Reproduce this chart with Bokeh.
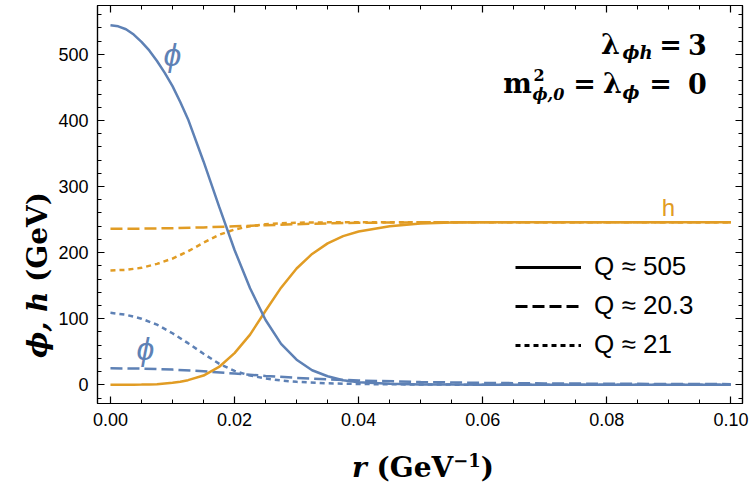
import math
from bokeh.plotting import figure
from bokeh.layouts import row, column
from bokeh.models import (Label, Legend, LegendItem, LinearAxis, Range1d, Div,
                          SingleIntervalTicker, CustomJSTickFormatter)
from bokeh.embed import file_html
from bokeh.resources import INLINE

# Field profiles phi(r), h(r) in GeV for three bounce solutions
r_solid = [0, 0.00125, 0.0025, 0.00375, 0.005, 0.00625, 0.0075, 0.00875, 0.01,
           0.01125, 0.0125, 0.015, 0.0175, 0.02, 0.0225, 0.025, 0.0275, 0.03,
           0.0325, 0.035, 0.0375, 0.04, 0.045, 0.05, 0.055, 0.06, 0.07, 0.08,
           0.09, 0.1]
phi_solid = [544, 542.5, 538, 530, 519, 506, 490, 472, 452, 428, 402, 338, 270,
             204, 146, 98, 62, 38, 22, 13, 7, 4, 1.5, 0.6, 0.3, 0.1, 0, 0, 0, 0]
h_solid = [0, 0, 0.1, 0.2, 0.3, 0.6, 1, 2, 3, 4.5, 7, 14, 27, 48, 76, 112, 147,
           176, 198, 214, 225, 232, 240, 244, 245.5, 246, 246, 246, 246, 246]

r_dash = [0, 0.005, 0.01, 0.015, 0.02, 0.025, 0.03, 0.035, 0.04, 0.05, 0.06,
          0.07, 0.08, 0.09, 0.1]
phi_dash = [25, 24.5, 23, 20.5, 17, 13.5, 10.5, 8.2, 6.5, 4.2, 2.9, 2.1, 1.6,
            1.2, 1.0]
h_dash = [236, 236.3, 237, 238.2, 239.8, 241.5, 243, 244.3, 245.2, 245.9, 246,
          246, 246, 246, 246]

r_dot = [0, 0.0025, 0.005, 0.0075, 0.01, 0.0125, 0.015, 0.0175, 0.02, 0.0225,
         0.025, 0.0275, 0.03, 0.035, 0.04, 0.05, 0.06, 0.08, 0.1]
phi_dot = [109, 106, 100, 91, 78, 63, 47, 32, 21, 14, 9.5, 6.5, 4.5, 2.3, 1.2,
           0.4, 0.15, 0, 0]
h_dot = [173, 174, 177, 183, 191, 202, 215, 227, 235, 240, 243, 244.5, 245.3,
         245.8, 246, 246, 246, 246, 246]

legend_labels = ["Q \u2248 505", "Q \u2248 20.3", "Q \u2248 21"]

BLUE = "#5E81B5"
ORANGE = "#E19C24"
DASH = "12 5"
DOT = "5 4"

W, H = 750, 498
YW, XH = 54, 58          # side strips holding the axis titles
FL, FB = 97, 403          # frame left / bottom in page pixels

p = figure(width=W - YW, height=H - XH, output_backend="svg",
           toolbar_location=None,
           x_range=Range1d(-0.00209, 0.10187), y_range=Range1d(-28.3, 574),
           min_border_left=FL - YW, min_border_right=8, min_border_top=5,
           min_border_bottom=H - XH - FB, background_fill_color="white",
           border_fill_color="white")
p.grid.visible = False
p.outline_line_color = "black"
p.outline_line_width = 1.2

xticker = SingleIntervalTicker(interval=0.02, num_minor_ticks=4)
yticker = SingleIntervalTicker(interval=100, num_minor_ticks=5)


def style_axis(ax, labels=True):
    ax.axis_line_color = "black"
    ax.axis_line_width = 1.2
    ax.major_tick_in = 7
    ax.major_tick_out = 0
    ax.minor_tick_in = 4
    ax.minor_tick_out = 0
    ax.major_tick_line_color = "black"
    ax.minor_tick_line_color = "black"
    ax.major_tick_line_width = 1.2
    ax.minor_tick_line_width = 1
    if labels:
        ax.major_label_text_font = "Liberation Sans"
        ax.major_label_text_font_size = "18px"
        ax.major_label_text_color = "black"
    else:
        ax.formatter = CustomJSTickFormatter(code="return '';")
        ax.major_label_text_font_size = "1px"
        ax.major_label_standoff = 0


p.xaxis.ticker = xticker
p.yaxis.ticker = yticker
style_axis(p.xaxis[0])
style_axis(p.yaxis[0])
p.xaxis[0].formatter = CustomJSTickFormatter(code="return tick.toFixed(2);")
p.xaxis[0].major_label_standoff = 9
p.yaxis[0].major_label_standoff = 9

top_ax = LinearAxis(ticker=xticker)
right_ax = LinearAxis(ticker=yticker)
style_axis(top_ax, labels=False)
style_axis(right_ax, labels=False)
p.add_layout(top_ax, "above")
p.add_layout(right_ax, "right")

# curves
p.line(r_dash, phi_dash, color=BLUE, line_width=2.5, line_dash=DASH)
p.line(r_dot, phi_dot, color=BLUE, line_width=2.5, line_dash=DOT)
p.line(r_dash, h_dash, color=ORANGE, line_width=2.5, line_dash=DASH)
p.line(r_dot, h_dot, color=ORANGE, line_width=2.5, line_dash=DOT)
p.line(r_solid, h_solid, color=ORANGE, line_width=2.5)
p.line(r_solid, phi_solid, color=BLUE, line_width=2.5)

# legend samples (black line styles)
nan = [float("nan")]
l1 = p.line(nan, nan, color="black", line_width=3)
l2 = p.line(nan, nan, color="black", line_width=3, line_dash=DASH)
l3 = p.line(nan, nan, color="black", line_width=3, line_dash=DOT)
legend = Legend(items=[LegendItem(label=legend_labels[0], renderers=[l1]),
                       LegendItem(label=legend_labels[1], renderers=[l2]),
                       LegendItem(label=legend_labels[2], renderers=[l3])],
                location=(418, 43), glyph_width=66, glyph_height=24,
                label_height=24, spacing=8, padding=0, margin=0,
                label_standoff=13, label_text_font="Liberation Sans",
                label_text_font_size="26px", label_text_color="black",
                border_line_alpha=0, background_fill_alpha=0)
p.add_layout(legend)


def put(x, y, text, size, **kw):
    """Place a text with its alphabetic baseline at page pixel (x, y)."""
    lift = 0.34 * size   # baseline offset of the label box
    p.add_layout(Label(x=x - FL, y=FB - y + lift, x_units="screen",
                       y_units="screen", text=text,
                       text_font_size=f"{size}px",
                       text_baseline="alphabetic",
                       text_color=kw.pop("text_color", "black"), **kw))


SERIF = "DejaVu Serif"
# curve tags
put(172, 65, "\u03d5", 32, text_font="Liberation Sans",
    text_font_style="italic", text_color=BLUE, text_align="center")
put(145, 359, "\u03d5", 32, text_font="Liberation Sans",
    text_font_style="italic", text_color=BLUE, text_align="center")
put(668, 215, "h", 24, text_font="Liberation Sans", text_color=ORANGE,
    text_align="center")

# parameter box
big = dict(text_font=SERIF, text_font_style="bold")
sub = dict(text_font=SERIF, text_font_style="bold italic")
put(610, 53, "\u03bb", 27, text_align="center", **big)
put(622, 58, "\u03d5h", 18, **sub)
put(670, 53, "=", 27, text_align="center", **big)
put(697, 53, "3", 27, text_align="center", **big)
put(517, 92, "m", 27, text_align="center", **big)
put(533, 80, "2", 16, **big)
put(532, 99, "\u03d5,0", 16, **sub)
put(584, 92, "=", 27, text_align="center", **big)
put(612, 92, "\u03bb", 27, text_align="center", **big)
put(622, 98, "\u03d5", 18, **sub)
put(660, 92, "=", 27, text_align="center", **big)
put(697, 92, "0", 27, text_align="center", **big)

# axis titles, set as HTML so that italic and upright parts can mix
TITLE_CSS = ("position:absolute;white-space:nowrap;font-family:'DejaVu Serif';"
             "font-weight:bold;font-size:28px;line-height:1;color:black;")
ytitle = Div(width=YW, height=H, margin=0, text=(
    f'<div style="position:relative;width:{YW}px;height:{H}px;">'
    f'<div style="{TITLE_CSS}left:38px;top:275px;'
    'transform:translate(-50%,-50%) rotate(-90deg);">'
    '<i>\u03d5, h</i> (GeV)</div></div>'))
xtitle = Div(width=W - YW, height=XH, margin=0, text=(
    f'<div style="position:relative;width:{W - YW}px;height:{XH}px;">'
    f'<div style="{TITLE_CSS}left:{423 - YW}px;top:28px;'
    'transform:translate(-50%,-50%);">'
    '<i>r</i> (GeV<sup style="font-size:18px;line-height:0;">'
    '\u22121</sup>)</div></div>'))

page = row(ytitle, column(p, xtitle, spacing=0), spacing=0)

open("out.html", "w").write(file_html(page, INLINE))
